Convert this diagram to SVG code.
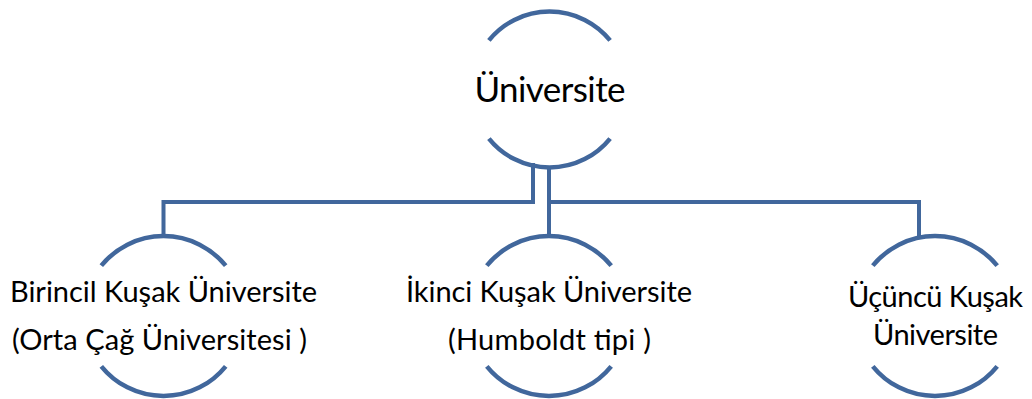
<svg xmlns="http://www.w3.org/2000/svg" width="1032" height="399" viewBox="0 0 1032 399">
<style>
.arc{fill:none;stroke:#41679C;stroke-width:4.5}
.con{fill:none;stroke:#41679C;stroke-width:4}
text{font-family:Lato,"Open Sans","Liberation Sans",sans-serif;fill:#000;text-anchor:middle}
.big{font-size:35px}
.sm{font-size:29px}
</style>
<rect width="1032" height="399" fill="#fff"/>
<g id="connectors">
<path class="con" d="M533 163 V202 H163.5 V236"/>
<path class="con" d="M549 166 V236"/>
<path class="con" d="M549 202 H919 V236"/>
</g>
<g id="node-universite">
<path class="arc" d="M488.9 40.4 A78 78 0 0 1 610.1 40.4"/>
<path class="arc" d="M488.9 138.6 A78 78 0 0 0 610.1 138.6"/>
<text class="big" x="550" y="102" textLength="151" lengthAdjust="spacing">Üniversite</text>
</g>
<g id="node-birincil">
<path class="arc" d="M101.3 265.7 A80 80 0 0 1 225.7 265.7"/>
<path class="arc" d="M101.3 366.3 A80 80 0 0 0 225.7 366.3"/>
<text class="sm" x="163.5" y="302" textLength="307" lengthAdjust="spacing">Birincil Kuşak Üniversite</text>
<text class="sm" x="159.5" y="350" textLength="295" lengthAdjust="spacing">(Orta Çağ Üniversitesi )</text>
</g>
<g id="node-ikinci">
<path class="arc" d="M486.8 265.7 A80 80 0 0 1 611.2 265.7"/>
<path class="arc" d="M486.8 366.3 A80 80 0 0 0 611.2 366.3"/>
<text class="sm" x="549" y="302" textLength="286" lengthAdjust="spacing">İkinci Kuşak Üniversite</text>
<text class="sm" x="549.5" y="350" textLength="203" lengthAdjust="spacing">(Humboldt tipi )</text>
</g>
<g id="node-ucuncu">
<path class="arc" d="M872.8 265.7 A80 80 0 0 1 997.2 265.7"/>
<path class="arc" d="M872.8 366.3 A80 80 0 0 0 997.2 366.3"/>
<text class="sm" x="935.5" y="307" textLength="175" lengthAdjust="spacing">Üçüncü Kuşak</text>
<text class="sm" x="935.5" y="345" textLength="125" lengthAdjust="spacing">Üniversite</text>
</g>
</svg>
